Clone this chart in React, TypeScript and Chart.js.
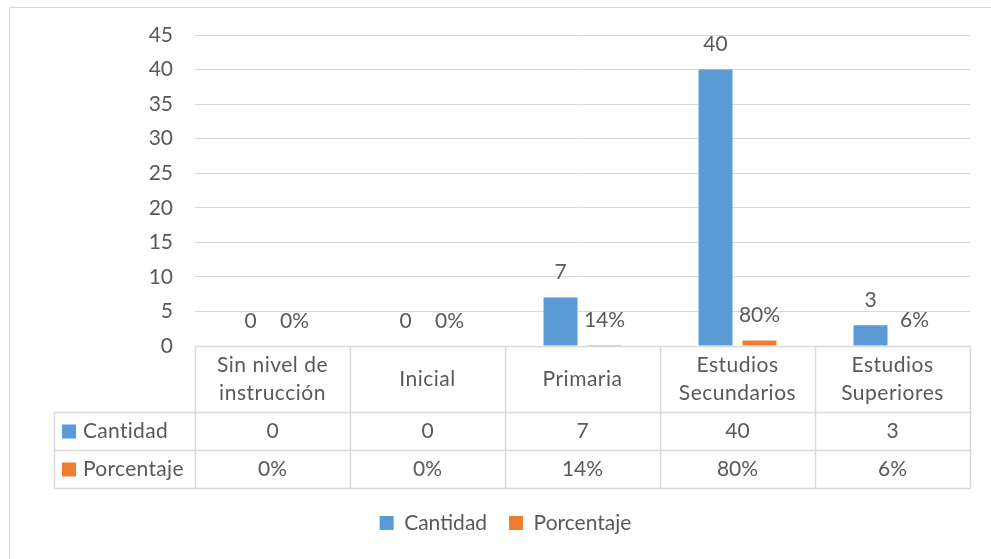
import React, { useEffect, useRef } from "react";
import { Chart, registerables } from "chart.js";

Chart.register(...registerables);

// ---- data ----
const categories: string[][] = [
  ["Sin nivel de", "instrucción"],
  ["Inicial"],
  ["Primaria"],
  ["Estudios", "Secundarios"],
  ["Estudios", "Superiores"],
];
const seriesNames = ["Cantidad", "Porcentaje"];
const cantidad = [0, 0, 7, 40, 3];
const porcentaje = [0, 0, 0.14, 0.8, 0.06];
const yMax = 45;
const yStep = 5;

// ---- style ----
const FONT = "Lato, 'Open Sans', sans-serif";
const FONT_SIZE = 21;
const TEXT = "#595959";
const GRID = "#D9D9D9";
const BLUE = "#5B9BD5";
const ORANGE = "#ED7D31";

const fmtCantidad = (v: number) => String(v);
const fmtPorcentaje = (v: number) => `${Math.round(v * 100)}%`;
const formatters = [fmtCantidad, fmtPorcentaje];
const colors = [BLUE, ORANGE];

const HEADER_H = 66;
const ROW_H = 38;
const TABLE_LEFT = 54;

const tablePlugin = {
  id: "excelTable",
  beforeDraw(chart: any) {
    const ctx = chart.ctx;
    ctx.save();
    ctx.strokeStyle = GRID;
    ctx.lineWidth = 1;
    ctx.strokeRect(9.5, 7.5, chart.width + 100, chart.height + 100);
    ctx.restore();
  },
  afterDatasetsDraw(chart: any) {
    const ctx = chart.ctx;
    ctx.save();
    ctx.font = `${FONT_SIZE}px ${FONT}`;
    ctx.fillStyle = TEXT;
    ctx.textAlign = "center";
    ctx.textBaseline = "middle";
    chart.data.datasets.forEach((ds: any, di: number) => {
      const meta = chart.getDatasetMeta(di);
      meta.data.forEach((bar: any, i: number) => {
        ctx.fillText(formatters[di](ds.data[i]), bar.x, bar.y - 25);
      });
    });
    ctx.restore();
  },
  afterDraw(chart: any) {
    const { ctx, chartArea } = chart;
    const xs = chart.scales.x;
    const n = categories.length;
    const top = Math.round(chartArea.bottom) + 0.5;
    const headerBottom = top + HEADER_H;
    const rows = chart.data.datasets.length;
    const tableBottom = headerBottom + ROW_H * rows;
    const right = Math.round(chartArea.right) + 0.5;
    const bounds: number[] = [];
    for (let k = 0; k <= n; k++) bounds.push(Math.round(xs.getPixelForValue(k - 0.5)) + 0.5);

    ctx.save();
    ctx.strokeStyle = GRID;
    ctx.lineWidth = 1.5;
    ctx.beginPath();
    bounds.forEach((b) => {
      ctx.moveTo(b, top);
      ctx.lineTo(b, tableBottom);
    });
    ctx.moveTo(TABLE_LEFT + 0.5, headerBottom);
    ctx.lineTo(TABLE_LEFT + 0.5, tableBottom);
    ctx.moveTo(bounds[0], top);
    ctx.lineTo(right, top);
    for (let r = 0; r <= rows; r++) {
      const y = headerBottom + r * ROW_H;
      ctx.moveTo(TABLE_LEFT + 0.5, y);
      ctx.lineTo(right, y);
    }
    ctx.stroke();

    ctx.font = `${FONT_SIZE}px ${FONT}`;
    ctx.fillStyle = TEXT;
    ctx.textBaseline = "middle";
    ctx.textAlign = "center";
    (ctx as any).letterSpacing = "0.5px";
    categories.forEach((lines, i) => {
      const cx = xs.getPixelForValue(i);
      const cy = top + HEADER_H / 2;
      const lh = 28;
      lines.forEach((ln, j) => {
        ctx.fillText(ln, cx, cy + (j - (lines.length - 1) / 2) * lh);
      });
    });
    chart.data.datasets.forEach((ds: any, di: number) => {
      const cy = headerBottom + di * ROW_H + ROW_H / 2;
      (ctx as any).letterSpacing = "0px";
      ds.data.forEach((v: number, i: number) => {
        ctx.textAlign = "center";
        ctx.fillText(formatters[di](v), xs.getPixelForValue(i), cy);
      });
      ctx.fillStyle = colors[di];
      ctx.fillRect(TABLE_LEFT + 8, cy - 7, 14, 14);
      ctx.fillStyle = TEXT;
      ctx.textAlign = "left";
      (ctx as any).letterSpacing = "0.3px";
      ctx.fillText(seriesNames[di], TABLE_LEFT + 29, cy);
    });
    ctx.restore();
  },
};

export default function App() {
  const ref = useRef<HTMLCanvasElement | null>(null);
  useEffect(() => {
    if (!ref.current) return;
    const chart = new Chart(ref.current, {
      type: "bar",
      data: {
        labels: categories.map((c) => c.join(" ")),
        datasets: [
          { label: seriesNames[0], data: cantidad, backgroundColor: BLUE, borderWidth: 0 },
          { label: seriesNames[1], data: porcentaje, backgroundColor: ORANGE, borderWidth: 0 },
        ],
      },
      options: {
        animation: false,
        responsive: false,
        layout: { padding: { top: 35, left: 41, right: 21, bottom: 15.5 } },
        datasets: {
          bar: { categoryPercentage: 0.567, barPercentage: 0.773 },
        },
        scales: {
          x: {
            grid: { display: false },
            border: { display: false },
            ticks: { display: false },
            afterFit: (s: any) => {
              s.height = 144.5;
            },
          },
          y: {
            min: 0,
            max: yMax,
            ticks: {
              stepSize: yStep,
              padding: 22,
              color: TEXT,
              font: { family: FONT, size: FONT_SIZE },
            },
            grid: { color: GRID, lineWidth: 1, drawTicks: false },
            border: { display: false },
            afterFit: (s: any) => {
              s.width = 154;
            },
          },
        },
        plugins: {
          legend: {
            position: "bottom",
            labels: {
              boxWidth: 14,
              boxHeight: 14,
              padding: 22,
              color: TEXT,
              font: { family: FONT, size: FONT_SIZE },
            },
          },
          tooltip: { enabled: false },
        },
      },
      plugins: [tablePlugin],
    });
    return () => chart.destroy();
  }, []);
  return (
    <div style={{ position: "fixed", left: 0, top: 0, width: 991, height: 559, background: "#fff" }}>
      <canvas ref={ref} width={991} height={559} style={{ display: "block" }} />
    </div>
  );
}
